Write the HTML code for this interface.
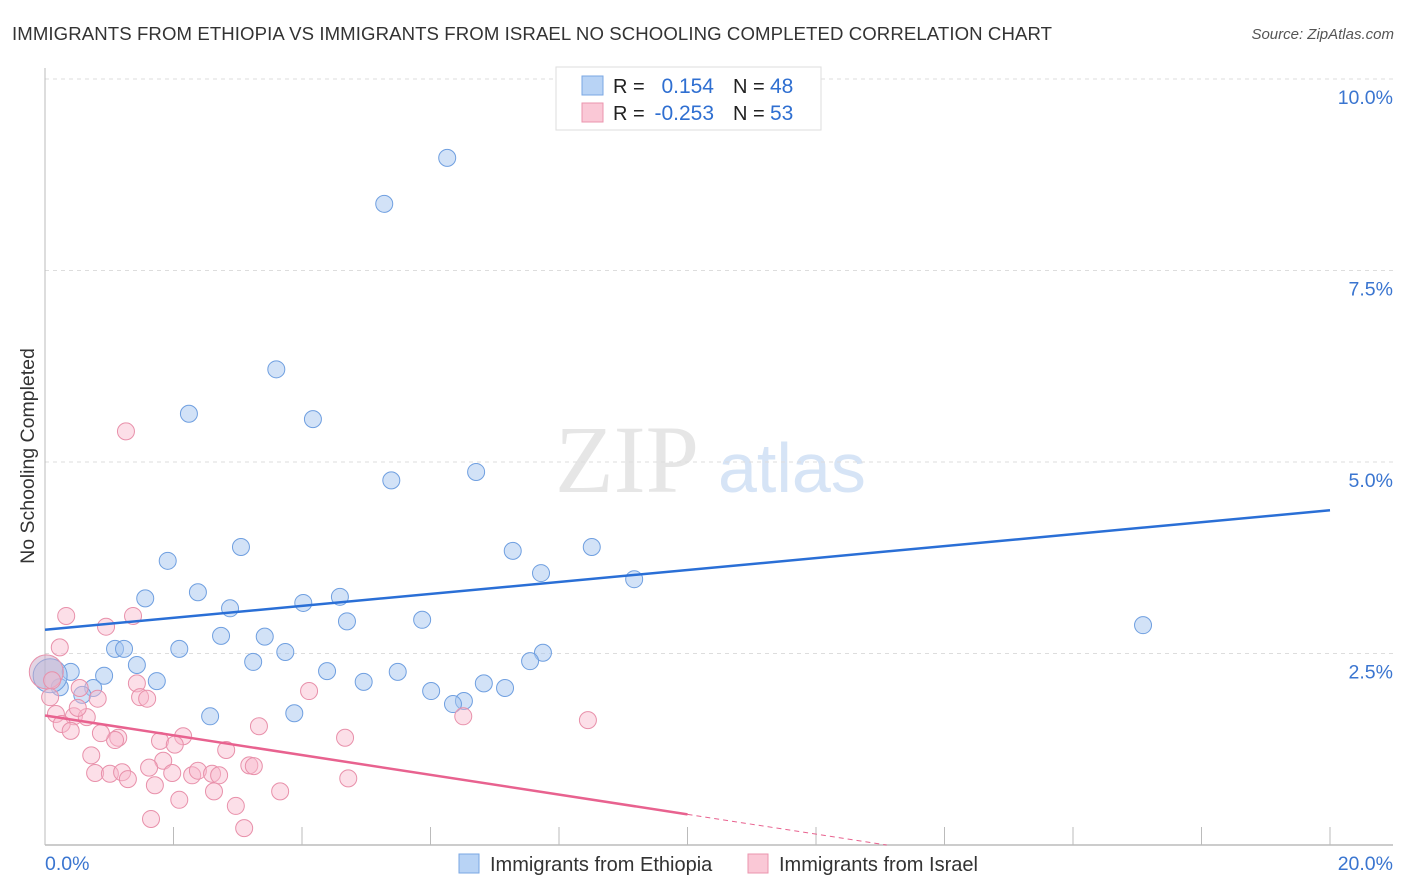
<!DOCTYPE html>
<html><head><meta charset="utf-8"><style>
body{margin:0;background:#fff;font-family:"Liberation Sans",sans-serif;}
svg{display:block}
</style></head><body>
<svg id="chart" width="1406" height="892">
<text x="12" y="40" font-size="18.6" fill="#333" textLength="1040">IMMIGRANTS FROM ETHIOPIA VS IMMIGRANTS FROM ISRAEL NO SCHOOLING COMPLETED CORRELATION CHART</text>
<text x="1394" y="39" font-size="15" fill="#555" font-style="italic" text-anchor="end">Source: ZipAtlas.com</text>
<text transform="translate(34,456) rotate(-90)" font-size="19.5" fill="#333" text-anchor="middle">No Schooling Completed</text>
<text x="555" y="492" font-size="96" fill="#e6e6e6" font-family="Liberation Serif,serif">ZIP</text>
<text x="718" y="492" font-size="70" fill="#d6e4f6">atlas</text>
<g id="grid"></g>
<g id="axes"></g>
<g id="pts"></g>
<g id="lines"></g>
<g>
<rect x="556" y="67" width="265" height="63" fill="#fff" stroke="#ddd"/>
<rect x="582" y="76" width="21" height="19" fill="#b8d3f5" stroke="#7aa7e3"/>
<rect x="582" y="103" width="21" height="19" fill="#fac8d6" stroke="#eb94ae"/>
<text x="613" y="93" font-size="20" fill="#222">R = </text><text x="714" y="93" font-size="21" fill="#2f6fd1" text-anchor="end">0.154</text>
<text x="733" y="93" font-size="20" fill="#222">N = </text><text x="770" y="93" font-size="21" fill="#2f6fd1">48</text>
<text x="613" y="120" font-size="20" fill="#222">R = </text><text x="714" y="120" font-size="21" fill="#2f6fd1" text-anchor="end">-0.253</text>
<text x="733" y="120" font-size="20" fill="#222">N = </text><text x="770" y="120" font-size="21" fill="#2f6fd1">53</text>
</g>
<g>
<rect x="459" y="854" width="20" height="19" fill="#b8d3f5" stroke="#7aa7e3"/>
<text x="490" y="871" font-size="20" fill="#333">Immigrants from Ethiopia</text>
<rect x="748" y="854" width="20" height="19" fill="#fac8d6" stroke="#eb94ae"/>
<text x="779" y="871" font-size="20" fill="#333">Immigrants from Israel</text>
</g>
<text x="45" y="870" font-size="19.5" fill="#3a75d0">0.0%</text>
<text x="1393" y="870" font-size="19.5" fill="#3a75d0" text-anchor="end">20.0%</text>
</svg>
<script>
const yTicks=[2.5,5,7.5,10];
const yTickLabels=["2.5%","5.0%","7.5%","10.0%"];
const xTickVals=[0,2,4,6,8,10,12,14,16,18,20];
const ethX=[6.26,5.28,3.60,2.24,4.17,5.39,6.71,3.05,7.28,8.51,1.91,7.72,9.17,1.56,2.38,4.59,4.02,2.88,4.70,5.87,2.74,3.42,1.09,1.23,2.09,3.74,7.75,7.55,1.43,3.24,4.39,5.49,0.40,0.92,1.74,4.96,6.83,7.16,0.75,0.23,0.58,6.01,6.52,6.35,2.57,3.88,17.09,0.08];
const ethY=[8.97,8.37,6.21,5.63,5.56,4.76,4.87,3.89,3.84,3.89,3.71,3.55,3.47,3.22,3.30,3.24,3.16,3.09,2.92,2.94,2.73,2.72,2.56,2.56,2.56,2.52,2.51,2.40,2.35,2.39,2.27,2.26,2.26,2.21,2.14,2.13,2.11,2.05,2.05,2.06,1.96,2.01,1.88,1.84,1.68,1.72,2.87,2.21];
const isrX=[1.26,0.33,1.37,0.23,0.95,1.43,4.11,1.48,1.59,0.82,0.54,0.08,0.17,0.45,0.65,0.51,0.26,0.40,3.33,2.15,1.79,2.02,4.67,1.14,1.09,0.87,0.72,2.82,1.84,1.62,0.78,1.01,1.20,1.98,2.29,2.38,2.60,2.71,1.29,1.71,3.18,3.25,3.66,2.63,4.72,2.09,2.97,1.65,3.10,6.51,8.45,0.02,0.11];
const isrY=[5.40,2.99,2.99,2.58,2.85,2.11,2.01,1.93,1.91,1.91,2.05,1.93,1.71,1.68,1.67,1.79,1.58,1.49,1.55,1.42,1.36,1.31,1.40,1.40,1.37,1.46,1.17,1.24,1.10,1.01,0.94,0.93,0.95,0.94,0.91,0.97,0.93,0.91,0.86,0.78,1.04,1.03,0.70,0.70,0.87,0.59,0.51,0.34,0.22,1.68,1.63,2.26,2.15];
const ethTrend=[2.81,4.37];   // y at x=0, x=20
const isrTrend=[1.69,0.40];   // y at x=0, x=10

const NS='http://www.w3.org/2000/svg';
const xs=v=>45+v*64.25, ys=v=>845-v*76.6;
function mk(tag,attrs,parent){const e=document.createElementNS(NS,tag);for(const k in attrs)e.setAttribute(k,attrs[k]);parent.appendChild(e);return e;}
const grid=document.getElementById('grid'),axes=document.getElementById('axes'),pts=document.getElementById('pts'),lines=document.getElementById('lines');
yTicks.forEach((t,i)=>{
  const l=mk('line',{x1:45,x2:1393,y1:ys(t),y2:ys(t),stroke:'#ddd','stroke-dasharray':'4,4'},grid);
  
  
  const tx=mk('text',{x:1393,y:ys(t)+25,'font-size':19.5,fill:'#3a75d0','text-anchor':'end'},grid);
  tx.textContent=yTickLabels[i];
  
  
});
const ax=mk('line',{x1:45,x2:1393,y1:845,y2:845,stroke:'#bbb','stroke-width':1.5},axes);


const ay=mk('line',{x1:45,x2:45,y1:68,y2:845,stroke:'#bbb','stroke-width':1},axes);


xTickVals.forEach(v=>{
  const t=mk('line',{x1:xs(v),x2:xs(v),y1:827,y2:845,stroke:'#bbb'},axes);
  
  
});
ethX.forEach((x,i)=>{
  const big=i===ethX.length-1;
  const c=mk('circle',{cx:xs(x),cy:ys(ethY[i]),r:big?17:8.5,fill:'rgba(165,198,240,0.5)',stroke:'#6f9fe0','stroke-width':1},pts);
  
  
});
isrX.forEach((x,i)=>{
  const big=i===isrX.length-2;
  const c=mk('circle',{cx:xs(x),cy:ys(isrY[i]),r:big?17:8.5,fill:big?'rgba(200,170,200,0.5)':'rgba(248,185,205,0.45)',stroke:'#e890aa','stroke-width':1},pts);
  
  
});
const bl=mk('line',{x1:xs(0),y1:ys(ethTrend[0]),x2:xs(20),y2:ys(ethTrend[1]),stroke:'#2a6fd6','stroke-width':2.5},lines);


const slope=(isrTrend[1]-isrTrend[0])/10;
const pl=mk('line',{x1:xs(0),y1:ys(isrTrend[0]),x2:xs(10),y2:ys(isrTrend[1]),stroke:'#e8628f','stroke-width':2.5},lines);


const xz=-isrTrend[0]/slope;
const pd=mk('line',{x1:xs(10),y1:ys(isrTrend[1]),x2:xs(xz),y2:ys(0),stroke:'#e8628f','stroke-width':1,'stroke-dasharray':'5,4'},lines);


</script>
</body></html>
